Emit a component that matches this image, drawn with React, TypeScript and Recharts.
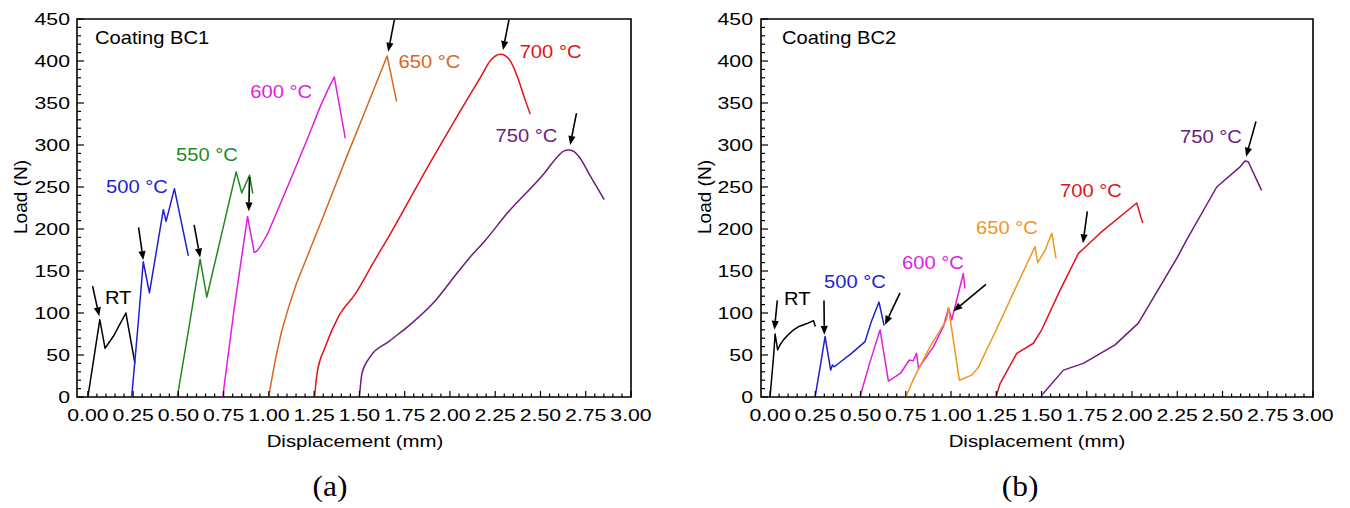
import React from 'react';
import { LineChart, Line, XAxis, YAxis, ReferenceLine, ReferenceDot, ReferenceArea } from 'recharts';

type P = [number, number];

// ---------- Panel (a): Coating BC1 ----------
const aRT: P[] = [[0, 0], [0.033, 46], [0.066, 92], [0.095, 58], [0.14, 72], [0.21, 100], [0.26, 40]];
const a500: P[] = [[0.242, 0], [0.275, 80], [0.306, 161], [0.34, 124], [0.417, 223], [0.432, 209], [0.478, 248], [0.555, 168]];
const a550: P[] = [[0.494, 0], [0.56, 85], [0.62, 164], [0.657, 119], [0.74, 195], [0.819, 268], [0.85, 243], [0.893, 264], [0.911, 242]];
const a600: P[] = [[0.745, 0], [0.81, 108], [0.882, 215], [0.919, 172], [0.935, 174], [0.952, 179], [0.99, 193], [1.026, 211], [1.118, 258], [1.21, 306], [1.284, 346], [1.324, 365], [1.361, 381], [1.422, 308]];
const a650: P[] = [[0.998, 0], [1.005, 8], [1.015, 20], [1.035, 44], [1.07, 78], [1.109, 107], [1.15, 134], [1.2, 161], [1.293, 211], [1.422, 282], [1.54, 345], [1.653, 406], [1.705, 352]];
const a700: P[] = [[1.252, 0], [1.266, 28], [1.312, 60], [1.385, 96], [1.478, 123], [1.577, 160], [1.662, 191], [1.893, 280], [2.05, 338], [2.17, 381], [2.225, 401], [2.28, 408], [2.327, 402], [2.373, 381], [2.41, 357], [2.443, 337]];
const a750: P[] = [[1.5, 0], [1.514, 28], [1.56, 48], [1.662, 66], [1.79, 88], [1.92, 115], [2.03, 145], [2.105, 165], [2.197, 187], [2.317, 219], [2.52, 266], [2.594, 286], [2.63, 293], [2.658, 294], [2.686, 292], [2.713, 286], [2.778, 262], [2.852, 235]];

// ---------- Panel (b): Coating BC2 ----------
const bRT: P[] = [[0, 0], [0.02, 50], [0.028, 75], [0.042, 56], [0.055, 62], [0.074, 68], [0.1, 74], [0.13, 80], [0.16, 84], [0.185, 86], [0.21, 88], [0.24, 91], [0.25, 84]];
const b500: P[] = [[0.249, 0], [0.28, 40], [0.304, 72], [0.335, 32], [0.345, 38], [0.355, 36], [0.45, 52], [0.525, 66], [0.56, 90], [0.602, 113], [0.63, 85]];
const b600: P[] = [[0.497, 0], [0.55, 40], [0.608, 80], [0.654, 19], [0.72, 28], [0.77, 44], [0.79, 43], [0.81, 52], [0.82, 34], [0.903, 60], [0.958, 84], [0.986, 106], [1.004, 92], [1.068, 147], [1.077, 129]];
const b650: P[] = [[0.75, 0], [0.79, 20], [0.884, 60], [0.976, 92], [0.986, 106], [1.046, 20], [1.114, 26], [1.15, 35], [1.25, 80], [1.381, 141], [1.464, 179], [1.479, 160], [1.52, 175], [1.557, 195], [1.58, 165]];
const b700: P[] = [[1.249, 0], [1.271, 16], [1.363, 52], [1.455, 64], [1.501, 80], [1.602, 127], [1.704, 171], [1.75, 180], [1.823, 195], [2.026, 231], [2.059, 207]];
const b750: P[] = [[1.501, 2], [1.621, 32], [1.731, 40], [1.906, 62], [2.035, 88], [2.247, 165], [2.302, 187], [2.468, 250], [2.597, 274], [2.624, 281], [2.642, 280], [2.716, 246]];

// arrows: [tailX, tailY, tipX, tipY]
const aArrows: number[][] = [
  [0.026, 132, 0.063, 96],
  [0.28, 202, 0.306, 163],
  [0.587, 205, 0.62, 166],
  [0.893, 262, 0.889, 221],
  [1.693, 449, 1.659, 411],
  [2.326, 449, 2.293, 413],
  [2.699, 338, 2.664, 300],
];
const bArrows: number[][] = [
  [0.04, 115, 0.024, 80],
  [0.298, 115, 0.3, 74],
  [0.718, 124, 0.635, 86],
  [1.193, 134, 1.013, 102],
  [1.753, 221, 1.729, 183],
  [2.685, 328, 2.63, 286],
];

// tick labels
const xMajorTicks = [0, 0.25, 0.5, 0.75, 1, 1.25, 1.5, 1.75, 2, 2.25, 2.5, 2.75, 3];
const yMajorTicks = [0, 50, 100, 150, 200, 250, 300, 350, 400, 450];
const xTicks: number[] = [];
for (let i = 0; i <= 60; i++) xTicks.push(Math.round(i * 5) / 100);
const yTicks: number[] = [];
for (let i = 0; i <= 45; i++) yTicks.push(i * 10);

const C = {
  black: '#000000',
  blue: '#1f1fd2',
  green: '#1f8a1f',
  magenta: '#e01ee0',
  orangeA: '#d8661e',
  orangeB: '#f0961e',
  red: '#e2121a',
  purple: '#6c1c7c',
};

type Curve = 'linear' | 'monotoneX';
const aSeries: { name: string; pts: P[]; color: string; curve: Curve }[] = [
  { name: 'RT', pts: aRT, color: C.black, curve: 'linear' },
  { name: '500', pts: a500, color: C.blue, curve: 'linear' },
  { name: '550', pts: a550, color: C.green, curve: 'linear' },
  { name: '600', pts: a600, color: C.magenta, curve: 'linear' },
  { name: '650', pts: a650, color: C.orangeA, curve: 'linear' },
  { name: '700', pts: a700, color: C.red, curve: 'monotoneX' },
  { name: '750', pts: a750, color: C.purple, curve: 'monotoneX' },
];
const bSeries: { name: string; pts: P[]; color: string; curve: Curve }[] = [
  { name: 'RT', pts: bRT, color: C.black, curve: 'linear' },
  { name: '500', pts: b500, color: C.blue, curve: 'linear' },
  { name: '600', pts: b600, color: C.magenta, curve: 'linear' },
  { name: '650', pts: b650, color: C.orangeB, curve: 'linear' },
  { name: '700', pts: b700, color: C.red, curve: 'linear' },
  { name: '750', pts: b750, color: C.purple, curve: 'linear' },
];

const aLabels = [
  { t: 'Coating BC1', x: 0.039, y: 428, c: C.black },
  { t: 'RT', x: 0.094, y: 119, c: C.black },
  { t: '500 °C', x: 0.1, y: 250, c: C.blue },
  { t: '550 °C', x: 0.487, y: 289, c: C.green },
  { t: '600 °C', x: 0.897, y: 364, c: C.magenta },
  { t: '650 °C', x: 1.716, y: 399, c: C.orangeA },
  { t: '700 °C', x: 2.385, y: 411, c: C.red },
  { t: '750 °C', x: 2.252, y: 311, c: C.purple },
];
const bLabels = [
  { t: 'Coating BC2', x: 0.066, y: 428, c: C.black },
  { t: 'RT', x: 0.077, y: 117, c: C.black },
  { t: '500 °C', x: 0.298, y: 137, c: C.blue },
  { t: '600 °C', x: 0.729, y: 160, c: C.magenta },
  { t: '650 °C', x: 1.138, y: 202, c: C.orangeB },
  { t: '700 °C', x: 1.602, y: 246, c: C.red },
  { t: '750 °C', x: 2.265, y: 310, c: C.purple },
];

const FONT = '"Liberation Sans", Arial, Helvetica, sans-serif';
const SERIF = '"Liberation Serif", "Times New Roman", serif';
const TICK_SX = 1.25;
const LBL_SX = 1.12;

const isMajorX = (v: number) => xMajorTicks.some((m) => Math.abs(m - v) < 1e-6);
const isMajorY = (v: number) => yMajorTicks.some((m) => Math.abs(m - v) < 1e-6);

const XTick = (props: any) => {
  const { x, y, payload } = props;
  const v = payload.value as number;
  const major = isMajorX(v);
  return (
    <g>
      <line x1={x} x2={x} y1={y} y2={y - (major ? 6 : 3.5)} stroke="#000" strokeWidth={1.2} />
      {major && (
        <text transform={`translate(${x},${y + 24}) scale(${TICK_SX},1)`} textAnchor="middle" fontSize={17} fontFamily={FONT} fill="#000">
          {v.toFixed(2)}
        </text>
      )}
    </g>
  );
};

const makeYTick = (gap: number) => (props: any) => {
  const { x, y, payload } = props;
  const v = payload.value as number;
  const major = isMajorY(v);
  return (
    <g>
      <line x1={x} x2={x + (major ? 7 : 4)} y1={y} y2={y} stroke="#000" strokeWidth={1.2} />
      {major && (
        <text transform={`translate(${x - gap},${y}) scale(${TICK_SX},1)`} dy="0.36em" textAnchor="end" fontSize={17} fontFamily={FONT} fill="#000">
          {v}
        </text>
      )}
    </g>
  );
};

const ArrowShape = (props: any) => {
  const { x1, y1, x2, y2 } = props;
  if ([x1, y1, x2, y2].some((v) => typeof v !== 'number' || isNaN(v))) return null;
  const dx = x2 - x1;
  const dy = y2 - y1;
  const len = Math.sqrt(dx * dx + dy * dy) || 1;
  const ux = dx / len;
  const uy = dy / len;
  const hl = 9;
  const hw = 3.6;
  const bx = x2 - ux * hl;
  const by = y2 - uy * hl;
  const pts = `${x2},${y2} ${bx - uy * hw},${by + ux * hw} ${bx + uy * hw},${by - ux * hw}`;
  return (
    <g>
      <line x1={x1} y1={y1} x2={bx} y2={by} stroke="#000" strokeWidth={1.6} />
      <polygon points={pts} fill="#000" />
    </g>
  );
};

const toData = (pts: P[]) => pts.map(([x, y]) => ({ x, y }));

interface PanelProps {
  series: { name: string; pts: P[]; color: string; curve: Curve }[];
  arrows: number[][];
  labels: { t: string; x: number; y: number; c: string }[];
  yAxisWidth: number;
  right: number;
  xMin: number;
  yGap: number;
}

const Panel = ({ series, arrows, labels, yAxisWidth, right, xMin, yGap }: PanelProps) => (
  <LineChart width={675} height={508} margin={{ top: 19, right, bottom: 81, left: 0 }}>
    <XAxis
      dataKey="x"
      type="number"
      domain={[xMin, 3]}
      allowDataOverflow
      ticks={xTicks}
      interval={0}
      tickSize={0}
      tickMargin={0}
      axisLine={false}
      tickLine={false}
      height={30}
      tick={<XTick />}
    />
    <YAxis
      type="number"
      domain={[0, 450]}
      allowDataOverflow
      ticks={yTicks}
      interval={0}
      tickSize={0}
      tickMargin={0}
      axisLine={false}
      tickLine={false}
      width={yAxisWidth}
      tick={makeYTick(yGap)}
    />
    <ReferenceArea x1={xMin} x2={3} y1={0} y2={450} fill="none" stroke="#000" strokeWidth={1.6} ifOverflow="visible" />
    {series.map((s) => (
      <Line
        key={s.name}
        data={toData(s.pts)}
        dataKey="y"
        type={s.curve}
        stroke={s.color}
        strokeWidth={1.5}
        dot={false}
        activeDot={false}
        isAnimationActive={false}
        strokeLinejoin="round"
      />
    ))}
    {arrows.map((a, i) => (
      <ReferenceLine
        key={'ar' + i}
        segment={[{ x: a[0], y: a[1] }, { x: a[2], y: a[3] }]}
        ifOverflow="visible"
        shape={ArrowShape}
      />
    ))}
    {labels.map((l, i) => (
      <ReferenceDot
        key={'lb' + i}
        x={l.x}
        y={l.y}
        r={1}
        ifOverflow="visible"
        shape={(p: any) => (
          <text
            transform={`translate(${p.cx},${p.cy}) scale(${LBL_SX},1)`}
            dy="0.36em"
            textAnchor="start"
            fontSize={18}
            fontFamily={FONT}
            fill={l.c}
          >
            {l.t}
          </text>
        )}
      />
    ))}
  </LineChart>
);

export default function App() {
  return (
    <div style={{ position: 'absolute', left: 0, top: 0, width: 1350, height: 508, background: '#fff', overflow: 'hidden' }}>
      <div style={{ position: 'absolute', left: 0, top: 0 }}>
        <Panel series={aSeries} arrows={aArrows} labels={aLabels} yAxisWidth={77} right={44} xMin={-0.06} yGap={7} />
      </div>
      <div style={{ position: 'absolute', left: 675, top: 0 }}>
        <Panel series={bSeries} arrows={bArrows} labels={bLabels} yAxisWidth={86} right={37} xMin={-0.05} yGap={8} />
      </div>
      <svg width={1350} height={508} style={{ position: 'absolute', left: 0, top: 0, pointerEvents: 'none' }}>
        <text transform="translate(355,447) scale(1.2,1)" textAnchor="middle" fontSize={17} fontFamily={FONT} fill="#000">Displacement (mm)</text>
        <text transform="translate(1037,447) scale(1.2,1)" textAnchor="middle" fontSize={17} fontFamily={FONT} fill="#000">Displacement (mm)</text>
        <text transform="translate(20,197) rotate(-90)" dy="0.36em" textAnchor="middle" fontSize={19} fontFamily={FONT} fill="#000">Load (N)</text>
        <text transform="translate(704,197) rotate(-90)" dy="0.36em" textAnchor="middle" fontSize={19} fontFamily={FONT} fill="#000">Load (N)</text>
        <text transform="translate(330,496) scale(1.05,1)" textAnchor="middle" fontSize={30} fontFamily={SERIF} fill="#000">(a)</text>
        <text transform="translate(1020,496) scale(1.05,1)" textAnchor="middle" fontSize={30} fontFamily={SERIF} fill="#000">(b)</text>
      </svg>
    </div>
  );
}
